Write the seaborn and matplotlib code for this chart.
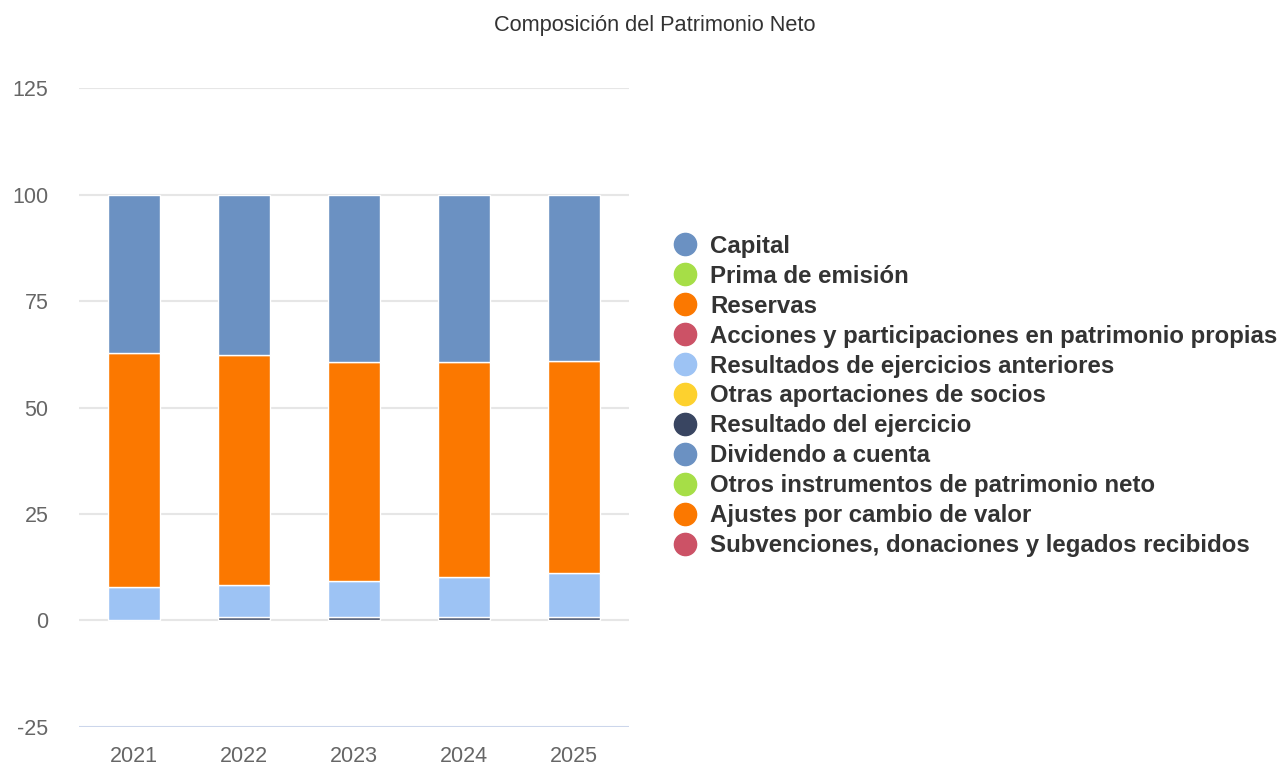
import numpy as np
import matplotlib.pyplot as plt
import seaborn as sns
from matplotlib.lines import Line2D

years = ["2021", "2022", "2023", "2024", "2025"]

# series in legend order (first one sits on top of the stack)
series_names = [
    "Capital",
    "Prima de emisión",
    "Reservas",
    "Acciones y participaciones en patrimonio propias",
    "Resultados de ejercicios anteriores",
    "Otras aportaciones de socios",
    "Resultado del ejercicio",
    "Dividendo a cuenta",
    "Otros instrumentos de patrimonio neto",
    "Ajustes por cambio de valor",
    "Subvenciones, donaciones y legados recibidos",
]
series_colors = [
    "#6b91c2", "#a6de47", "#fb7800", "#cc5266", "#9dc3f4", "#fdd12e",
    "#394561", "#6b91c2", "#a6de47", "#fb7800", "#cc5266",
]

capital = [37.3, 37.6, 39.4, 39.4, 39.0]
prima = [0, 0, 0, 0, 0]
reservas = [54.9, 54.0, 51.3, 50.3, 49.8]
acciones = [0, 0, 0, 0, 0]
res_anteriores = [7.8, 7.6, 8.5, 9.5, 10.4]
otras_aport = [0, 0, 0, 0, 0]
resultado = [0.0, 0.8, 0.8, 0.8, 0.8]
dividendo = [0, 0, 0, 0, 0]
otros_instr = [0, 0, 0, 0, 0]
ajustes = [0, 0, 0, 0, 0]
subvenciones = [0, 0, 0, 0, 0]

values = [capital, prima, reservas, acciones, res_anteriores, otras_aport,
          resultado, dividendo, otros_instr, ajustes, subvenciones]

sns.set_style("white")
plt.rcParams["font.family"] = ["Liberation Sans", "DejaVu Sans"]
plt.rcParams["axes.unicode_minus"] = False

fig = plt.figure(figsize=(12.82, 7.68), dpi=100)
ax = fig.add_axes([0.0616, 0.0534, 0.4290, 0.8320])

# stack from the last series upward
bottom = np.zeros(len(years))
for name, vals, col in reversed(list(zip(series_names, values, series_colors))):
    vals = np.array(vals, dtype=float)
    if vals.sum() > 0:
        sns.barplot(x=years, y=vals, bottom=bottom, color=col, width=0.47,
                    saturation=1, edgecolor="white", linewidth=1, ax=ax, zorder=3)
    bottom += vals

ax.set_ylim(-25, 125)
ax.set_xlim(-0.5, 4.5)
ax.set_yticks([-25, 0, 25, 50, 75, 100, 125])
for t in [0, 25, 50, 75, 100, 125]:
    ax.axhline(t, color="#e6e6e6", lw=1.5, zorder=1)
ax.axhline(-25, color="#ccd6eb", lw=1.5, zorder=1)
for s in ax.spines.values():
    s.set_visible(False)
ax.tick_params(axis="both", length=0, labelsize=15.5, colors="#666666")
ax.tick_params(axis="y", pad=22)
ax.tick_params(axis="x", pad=14)
ax.set_xlabel("")
ax.set_ylabel("")

fig.text(0.511, 0.967, "Composición del Patrimonio Neto", ha="center", va="center",
         fontsize=15.7, color="#333333")

handles = [Line2D([0], [0], marker="o", linestyle="", markersize=16,
                  markerfacecolor=c, markeredgecolor=c) for c in series_colors]
leg = fig.legend(handles, series_names, loc="upper left",
                 bbox_to_anchor=(0.5165, 0.707), frameon=False,
                 prop={"weight": "bold", "size": 17.3}, labelcolor="#333333",
                 handletextpad=0.5, labelspacing=0.29, borderaxespad=0,
                 handlelength=1.1)

fig.savefig("out.png", dpi=100)
